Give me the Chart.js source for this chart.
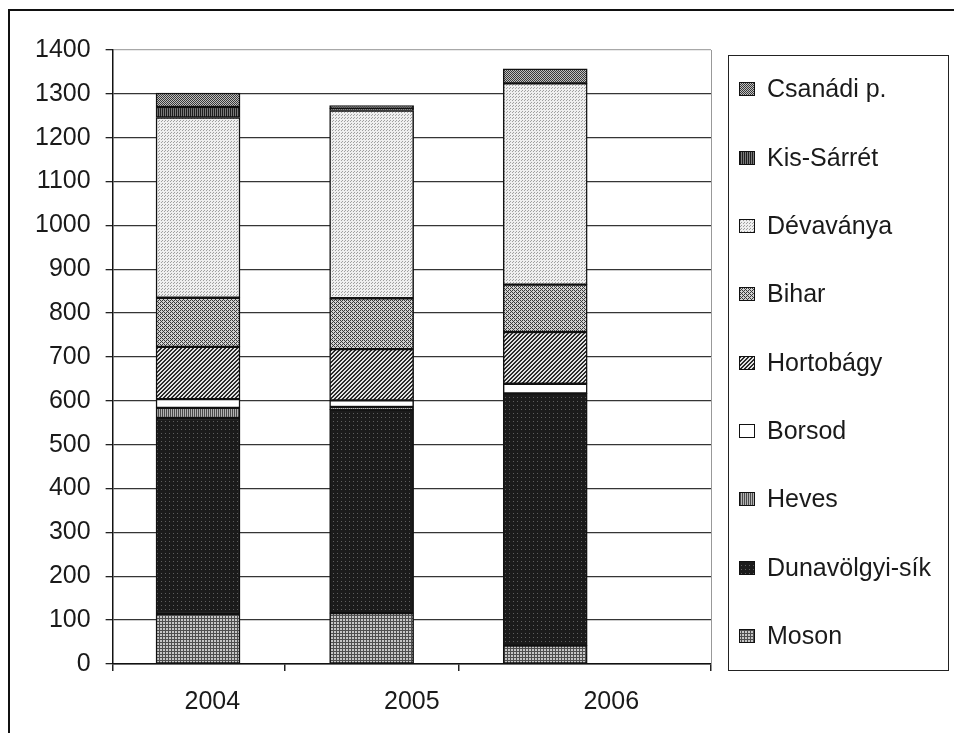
<!DOCTYPE html>
<html><head><meta charset="utf-8">
<script src="https://cdn.jsdelivr.net/npm/chart.js@4"></script>
<style>
html,body{margin:0;padding:0;background:#fff;overflow:hidden;width:954px;height:733px}
#frame{position:absolute;left:8px;top:9px;width:1000px;height:800px;border-top:2px solid #111;border-left:2px solid #111;}
canvas{position:absolute;left:0;top:0}
</style></head><body>
<div id="frame"></div>
<canvas id="c" width="954" height="733"></canvas>
<script>
// ---- data ----
const years = ['2004', '2005', '2006'];
const moson      = [114, 116, 42];
const dunavolgyi = [447, 464, 575];
const heves      = [23, 6, 0];
const borsod     = [20, 15, 22];
const hortobagy  = [119, 117, 118];
const bihar      = [112, 116, 108];
const devavanya  = [411, 428, 459];
const kisSarret  = [24, 5, 0];
const csanadi    = [32, 6, 33];
const yTicksMin = 0, yTicksMax = 1400, yTickStep = 100;

// ---- patterns ----
function pat(w, h, bg, fg, pred) {
  const c = document.createElement('canvas');
  c.width = w; c.height = h;
  const g = c.getContext('2d');
  g.fillStyle = bg; g.fillRect(0, 0, w, h);
  g.fillStyle = fg;
  for (let y = 0; y < h; y++) for (let x = 0; x < w; x++) if (pred(x, y)) g.fillRect(x, y, 1, 1);
  return g.createPattern(c, 'repeat');
}
const P = {
  moson: pat(3, 3, '#c6c6c6', '#4e4e4e', (x, y) => x === 0 || y === 0),
  duna: pat(4, 4, '#1b1b1b', '#5e5e5e', (x, y) => x === 1 && y === 1),
  heves: pat(2, 1, '#b4b4b4', '#4a4a4a', (x) => x === 0),
  borsod: '#ffffff',
  horto: pat(4, 4, '#e2e2e2', '#2a2a2a', (x, y) => ((x + y) % 4) < 2),
  bihar: pat(4, 4, '#d2d2d2', '#3a3a3a', (x, y) => ((x - y + 8) % 4 === 0) || (x % 2 === 0 && y % 2 === 0 && (x + y) % 4 === 2)),
  deva: pat(3, 3, '#efefef', '#a0a0a0', (x, y) => (x === 0 && y === 0) || (x === 2 && y === 1)),
  kis: pat(2, 1, '#7a7a7a', '#1e1e1e', (x) => x === 0),
  csan: pat(2, 2, '#c0c0c0', '#383838', (x, y) => (x + y) % 2 === 0)
};

function ds(label, data, fill) {
  return { label, data, backgroundColor: fill, borderColor: '#111', borderWidth: 1.5,
           borderSkipped: false, xAxisID: 'xb', yAxisID: 'y', barThickness: 84 };
}

const boxLegend = {
  id: 'boxLegend',
  afterDraw(chart) {
    const ctx = chart.ctx, a = chart.chartArea;
    const L = a.right + 17, T = a.top + 5, R = chart.width - 6, B = a.bottom + 6;
    ctx.save();
    ctx.strokeStyle = '#222'; ctx.lineWidth = 1;
    ctx.strokeRect(L + 0.5, T + 0.5, R - L, B - T);
    const items = chart.data.datasets.slice().reverse();
    const step = (B - T) / items.length;
    ctx.font = '25px "Liberation Sans", Arial, sans-serif';
    ctx.textBaseline = 'middle';
    items.forEach((d, i) => {
      const cy = Math.round(T + step * (i + 0.5));
      ctx.fillStyle = d.backgroundColor;
      ctx.fillRect(L + 11, cy - 7, 16, 14);
      ctx.strokeStyle = '#111'; ctx.lineWidth = 1;
      ctx.strokeRect(L + 11.5, cy - 6.5, 15, 13);
      ctx.fillStyle = '#1a1a1a';
      ctx.fillText(d.label, L + 39, cy + 1);
    });
    ctx.restore();
  }
};

const FONT = { family: '"Liberation Sans", Arial, sans-serif', size: 25 };
const halfStep = years.slice(0, -1).map(y => +y + 0.5);

new Chart(document.getElementById('c'), {
  type: 'bar',
  data: {
    labels: years,
    datasets: [
      ds('Moson', moson, P.moson),
      ds('Dunavölgyi-sík', dunavolgyi, P.duna),
      ds('Heves', heves, P.heves),
      ds('Borsod', borsod, P.borsod),
      ds('Hortobágy', hortobagy, P.horto),
      ds('Bihar', bihar, P.bihar),
      ds('Dévaványa', devavanya, P.deva),
      ds('Kis-Sárrét', kisSarret, P.kis),
      ds('Csanádi p.', csanadi, P.csan)
    ]
  },
  options: {
    responsive: false,
    animation: false,
    devicePixelRatio: 1,
    layout: { padding: { top: 50, left: 20, right: 243, bottom: 0 } },
    plugins: { legend: { display: false }, tooltip: { enabled: false } },
    scales: {
      xb: {
        type: 'linear', position: 'bottom', stacked: true, weight: 0,
        offset: false,
        min: +years[0] - 0.492, max: +years[years.length - 1] + 0.955,
        afterBuildTicks: (s) => { s.ticks = [s.min, ...halfStep, s.max].map(v => ({ value: v })); },
        ticks: { display: false },
        grid: { drawOnChartArea: false, drawTicks: true, tickLength: 7, color: '#222', lineWidth: 1.5, offset: false },
        border: { display: true, color: '#111', width: 1.5 }
      },
      x: {
        type: 'category', position: 'bottom', weight: 1, offset: true,
        grid: { display: false, drawTicks: false },
        border: { display: false },
        ticks: { font: FONT, color: '#1a1a1a', padding: 16, maxRotation: 0 }
      },
      y: {
        type: 'linear', position: 'left', stacked: true,
        min: yTicksMin, max: yTicksMax,
        ticks: { stepSize: yTickStep, font: FONT, color: '#1a1a1a', padding: 15,
                 callback: (v) => String(v) },
        grid: {
          color: (c) => (c.tick && c.tick.value === yTicksMax) ? '#a8a8a8' : '#353535',
          lineWidth: 1.3, tickLength: 7, tickColor: '#222'
        },
        border: { display: true, color: '#111', width: 1.5 }
      },
      yr: {
        type: 'linear', position: 'right', min: yTicksMin, max: yTicksMax,
        ticks: { display: false },
        grid: { drawOnChartArea: false, drawTicks: false },
        border: { display: true, color: '#999', width: 1, dash: [2, 2] }
      }
    }
  },
  plugins: [boxLegend]
});
</script>
</body></html>
